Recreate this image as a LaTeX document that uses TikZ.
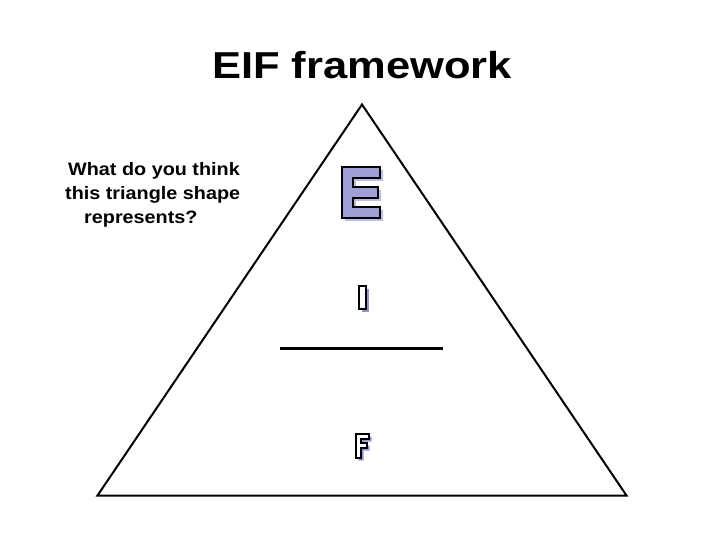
\documentclass[tikz,border=0pt]{standalone}
\usepackage{fontspec}
\setmainfont{Liberation Sans}
\usepackage{xcolor}
\usepackage{tikz}
\definecolor{eface}{RGB}{160,160,214}
\definecolor{eshade}{RGB}{190,190,228}
\definecolor{lshade}{RGB}{150,150,205}
\newcommand{\titlesize}{\fontsize{37.5}{40}\selectfont\bfseries}
\newcommand{\asksize}{\fontsize{18}{22}\selectfont\bfseries}

\begin{document}
\begin{tikzpicture}[x=1pt, y=-1pt,
		ask/.style={anchor=base west, inner sep=0pt},
		bigshadow/.style={fill=eshade},
		bigletter/.style={draw=black, line width=1.6pt, line join=miter, fill=eface},
		smallshadow/.style={fill=lshade},
		smallletter/.style={draw=black, line width=1.3pt, line join=miter, fill=white}]
		\useasboundingbox[fill=white] (0, 0) rectangle (720, 540);

		\node[anchor=base, inner sep=0pt] (title) at (362, 78.3) {\titlesize\scalebox{1.16}[1]{EIF framework}};

		\node[ask] (ask1) at (68, 176) {\asksize\scalebox{1.1}[1]{What do you think}};
		\node[ask] (ask2) at (65, 199.5) {\asksize\scalebox{1.1}[1]{this triangle shape}};
		\node[ask] (ask3) at (84, 223) {\asksize\scalebox{1.1}[1]{represents?}};

		\draw[line width=2pt, line join=miter] (362, 104.5) -- (97.5, 495.5) -- (626.5, 495.5) -- cycle;

		% E
		\foreach \d/\st in {3/bigshadow, 0/bigletter} {
			\path[\st, shift={(\d, \d)}] (342, 167) -- (380, 167) -- (380, 178) -- (353, 178)
				-- (353, 187) -- (378, 187) -- (378, 198) -- (353, 198) -- (353, 207)
				-- (380, 207) -- (380, 218) -- (342, 218) -- cycle;
		}

		% I
		\foreach \d/\st in {2.5/smallshadow, 0/smallletter} {
			\path[\st, shift={(\d, \d)}] (359, 286) rectangle (366, 309);
		}

		\draw[line width=3pt] (280, 348) -- (443, 348);

		% F
		\foreach \d/\st in {2.5/smallshadow, 0/smallletter} {
			\path[\st, shift={(\d, \d)}] (356, 434) -- (369, 434) -- (369, 439) -- (361, 439)
				-- (361, 443) -- (367, 443) -- (367, 448) -- (361, 448) -- (361, 458)
				-- (356, 458) -- cycle;
		}
	\end{tikzpicture}
\end{document}
